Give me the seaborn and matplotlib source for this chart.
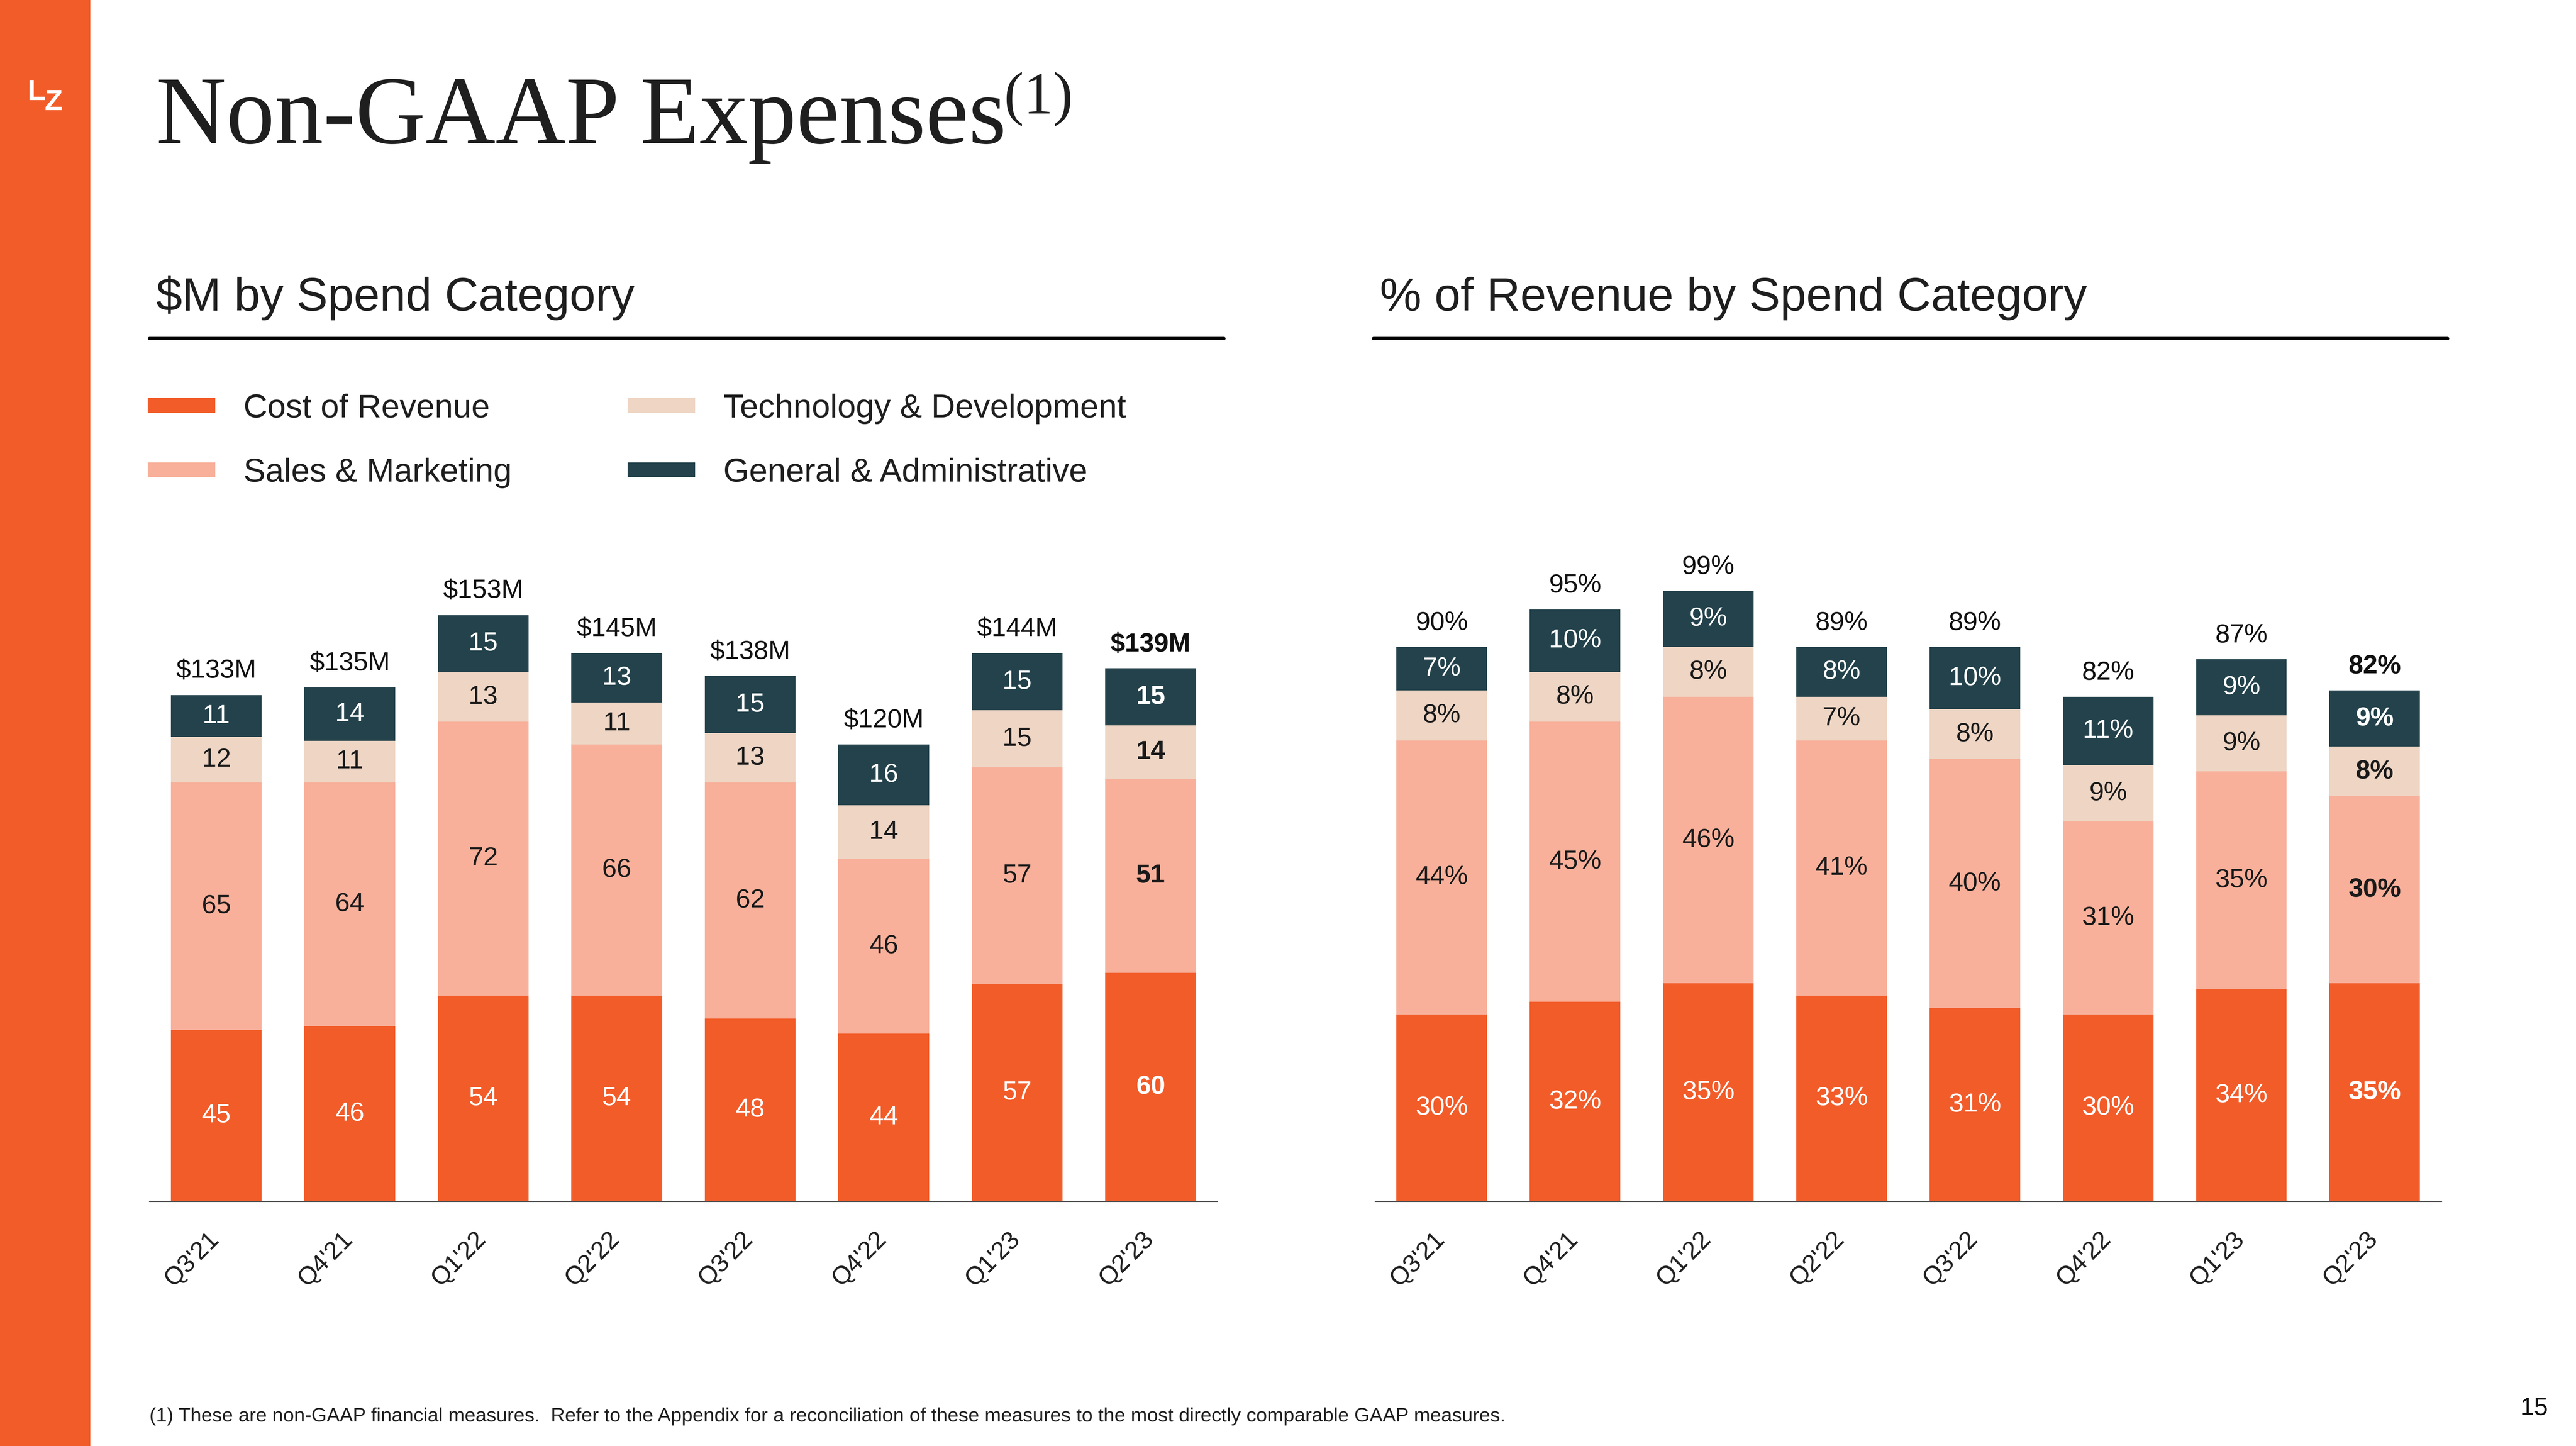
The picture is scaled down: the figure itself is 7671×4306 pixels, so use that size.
import matplotlib
matplotlib.use("Agg")
import matplotlib.pyplot as plt
from matplotlib.lines import Line2D
from matplotlib.patches import Patch, Rectangle
from matplotlib.transforms import ScaledTranslation
import seaborn as sns

# ---- data -------------------------------------------------------------
quarters = ["Q3'21", "Q4'21", "Q1'22", "Q2'22", "Q3'22", "Q4'22", "Q1'23", "Q2'23"]
categories = ["Cost of Revenue", "Sales & Marketing", "Technology & Development", "General & Administrative"]

cost_musd = [45, 46, 54, 54, 48, 44, 57, 60]
sm_musd = [65, 64, 72, 66, 62, 46, 57, 51]
td_musd = [12, 11, 13, 11, 13, 14, 15, 14]
ga_musd = [11, 14, 15, 13, 15, 16, 15, 15]
total_musd = [133, 135, 153, 145, 138, 120, 144, 139]

cost_pct = [30, 32, 35, 33, 31, 30, 34, 35]
sm_pct = [44, 45, 46, 41, 40, 31, 35, 30]
td_pct = [8, 8, 8, 7, 8, 9, 9, 8]
ga_pct = [7, 10, 9, 8, 10, 11, 9, 9]
total_pct = [90, 95, 99, 89, 89, 82, 87, 82]

COLORS = ["#F25C29", "#F8B09A", "#EED5C4", "#23424B"]
LABEL_COLORS = ["white", "#1a1a1a", "#1a1a1a", "white"]
ORANGE = "#F25C29"
INK = "#1f1f1f"

# ---- canvas (coordinates below are in a 1568 x 880 layout grid) --------
W, H = 1568, 880
DPI = 7671 / 15.68
sns.set_theme(style="white")
plt.rcParams["font.family"] = ["Liberation Sans", "DejaVu Sans"]

fig = plt.figure(figsize=(15.68, 4306 / DPI), dpi=DPI)


def fx(px):
    return px / W


def fy(py):
    return 1 - py / H


# orange side bar + logo
fig.add_artist(Rectangle((0, 0), fx(55), 1, transform=fig.transFigure, color=ORANGE, lw=0, zorder=0))
fig.text(fx(16.5), fy(61), "L", color="white", fontsize=13, fontweight="bold", va="baseline")
fig.text(fx(27), fy(67), "Z", color="white", fontsize=13, fontweight="bold", va="baseline")

# title
fig.text(fx(95), fy(87), "Non-GAAP Expenses", family=["Liberation Serif", "DejaVu Serif"],
         fontsize=42.5, color=INK, va="baseline")
fig.text(fx(611), fy(69), "(1)", family=["Liberation Serif", "DejaVu Serif"],
         fontsize=26, color=INK, va="baseline")

# section headers with rules
for x0, x1, label in [(91, 745, "$M by Spend Category"), (836, 1490, "% of Revenue by Spend Category")]:
    fig.text(fx(x0 + 4), fy(189), label, fontsize=20.5, color=INK, va="baseline")
    fig.add_artist(Line2D([fx(x0), fx(x1)], [fy(206), fy(206)], transform=fig.transFigure,
                          color="black", lw=1.4))

# legend
handles = [Patch(facecolor=c, edgecolor="none") for c in COLORS]
fig.legend(handles, categories, loc="upper left", bbox_to_anchor=(fx(90), fy(239.5)), ncol=2,
           frameon=False, fontsize=14.5, handlelength=2.04, handleheight=0.32, handletextpad=0.85,
           columnspacing=3.5, labelspacing=1.02, borderpad=0, borderaxespad=0, labelcolor=INK)


def stacked(ax, parts, totals, total_fmt, part_fmt, ymax):
    bottom = [0] * len(quarters)
    for vals, color, lab_color in zip(parts, COLORS, LABEL_COLORS):
        sns.barplot(x=quarters, y=vals, bottom=bottom, color=color, saturation=1, width=0.68,
                    errorbar=None, ax=ax, linewidth=0)
        for i, v in enumerate(vals):
            bold = i == len(quarters) - 1
            ax.text(i, bottom[i] + v / 2, part_fmt.format(v), ha="center", va="center",
                    color=lab_color, fontsize=11.5, fontweight="bold" if bold else "normal")
        bottom = [b + v for b, v in zip(bottom, vals)]
    for i, (top, tot) in enumerate(zip(bottom, totals)):
        bold = i == len(quarters) - 1
        ax.annotate(total_fmt.format(tot), (i, top), xytext=(0, 10.5), textcoords="offset points",
                    ha="center", va="center", color="#111111", fontsize=11.5,
                    fontweight="bold" if bold else "normal")
    ax.set_xlim(-0.5, len(quarters) - 0.5)
    ax.set_ylim(0, ymax)
    sns.despine(ax=ax, left=True)
    ax.spines["bottom"].set_color("#333333")
    ax.spines["bottom"].set_linewidth(0.5)
    ax.set_yticks([])
    ax.set_xlabel("")
    ax.set_ylabel("")
    ax.tick_params(axis="x", length=0, pad=11.5, labelsize=11, labelcolor=INK)
    shift = ScaledTranslation(4.5 / 100, 0, fig.dpi_scale_trans)
    for lab in ax.get_xticklabels():
        lab.set_rotation(45)
        lab.set_ha("right")
        lab.set_va("top")
        lab.set_transform(lab.get_transform() + shift)


ax_bottom, ax_top = 731, 330
ax_h = (ax_bottom - ax_top) / H
ax1 = fig.add_axes([fx(91), fy(ax_bottom), fx(741) - fx(91), ax_h])
ax2 = fig.add_axes([fx(837), fy(ax_bottom), fx(1486) - fx(837), ax_h])
for a in (ax1, ax2):
    a.set_facecolor("none")

stacked(ax1, [cost_musd, sm_musd, td_musd, ga_musd], total_musd, "${}M", "{}", (ax_bottom - ax_top) / 2.316)
stacked(ax2, [cost_pct, sm_pct, td_pct, ga_pct], total_pct, "{}%", "{}%", (ax_bottom - ax_top) / 3.79)

# footnote and page number
fig.text(fx(91), fy(865), "(1) These are non-GAAP financial measures.  Refer to the Appendix for a "
         "reconciliation of these measures to the most directly comparable GAAP measures.",
         fontsize=8.6, color=INK, va="baseline")
fig.text(fx(1551), fy(861), "15", fontsize=11, color="#111111", ha="right", va="baseline")

fig.savefig("out.png", dpi=DPI, facecolor="white")
